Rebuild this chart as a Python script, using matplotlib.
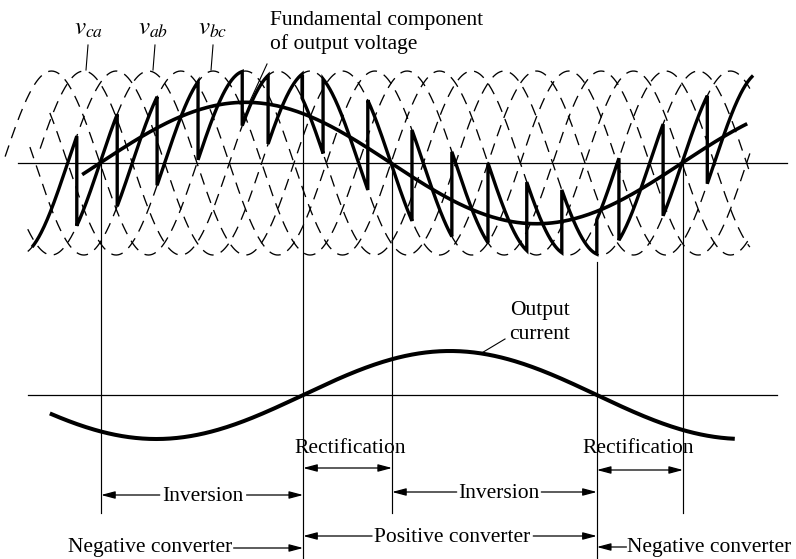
import numpy as np
import matplotlib
matplotlib.use("Agg")
import matplotlib.pyplot as plt

plt.rcParams['font.family'] = ['Liberation Serif', 'DejaVu Serif']
plt.rcParams['mathtext.fontset'] = 'stix'
plt.rcParams['lines.scale_dashes'] = False

# ---- supply side: six line-to-line voltages, peaks 60 deg apart (per unit) ----
# index k -> v_ca, -v_bc, v_ab, -v_ca, v_bc, -v_ab  (peak of k at 60*k deg)
phase_step = 60.0
dashed_start = [-81, -104, -104, -100, -63, -146]   # deg
dashed_end = [1236, 1236, 1236, 1236, 1236, 1236]   # deg

# ---- cycloconverter output: segment edges (deg) and conducted phase index ----
segment_edges = [-96, -13, 62, 136, 212, 294, 342, 405, 444, 527, 609,
                 683, 750, 822, 887, 952, 993, 1075, 1157, 1242]
segment_phase = [1, 2, 3, 4, 5, 6, 7,
                 6, 7, 8, 9, 10, 11, 12, 13,
                 18, 19, 20, 21]

# fundamental of output voltage (per unit of supply peak)
fund_amp, fund_zero, fund_period = 0.66, 30.0, 1080.0
fund_range = (-3, 1231)

# output current (per unit)
cur_amp, cur_zero, cur_period = 1.0, 407.0, 1090.0
cur_range = (-63, 1208)

# mode boundaries (deg): voltage zeros and current zeros
v_zero_marks = [32, 572, 1112]
i_zero_marks = [407, 952]

# ---------------------------------------------------------------------------
fig = plt.figure(figsize=(7.96, 5.59), dpi=100)
ax = fig.add_axes([0, 0, 1, 1])            # rows layer for labels and guides
ax_v = fig.add_axes([0, 0, 1, 1], sharex=ax)
ax_i = fig.add_axes([0, 0, 1, 1], sharex=ax)
for a in (ax, ax_v, ax_i):
    a.set_axis_off()
    a.patch.set_alpha(0)
ax.set_xlim(-155.5, 1321.6)
ax.set_ylim(559, 0)
ax_v.set_ylim(-4.304, 1.772)
ax_i.set_ylim(-3.727, 8.977)

k_col = 'black'

# zero axes
ax_v.plot([-122, 1305], [0, 0], color=k_col, lw=0.9)
ax_i.plot([-104, 1286], [0, 0], color=k_col, lw=0.9)

# dashed supply voltages
for k in range(6):
    th = np.linspace(dashed_start[k], dashed_end[k], 800)
    ax_v.plot(th, np.cos(np.radians(th - phase_step * k)), color=k_col,
              lw=0.95, linestyle=(0, (8.5, 5.5)))

# heavy output voltage
th_all, v_all = [], []
for i, n in enumerate(segment_phase):
    th = np.linspace(segment_edges[i], segment_edges[i + 1], 60)
    th_all.append(th)
    v_all.append(np.cos(np.radians(th - phase_step * n)))
ax_v.plot(np.concatenate(th_all), np.concatenate(v_all), color=k_col, lw=2.4,
          solid_joinstyle='miter', solid_capstyle='butt')

# fundamental component
th = np.linspace(*fund_range, 400)
ax_v.plot(th, fund_amp * np.sin(np.radians((th - fund_zero) * 360 / fund_period)),
          color=k_col, lw=2.6, solid_capstyle='butt')

# output current
th = np.linspace(*cur_range, 400)
ax_i.plot(th, cur_amp * np.sin(np.radians((th - cur_zero) * 360 / cur_period)),
          color=k_col, lw=2.9, solid_capstyle='butt')

# mode boundary guides (rows)
for x in v_zero_marks:
    ax.plot([x, x], [163, 513], color=k_col, lw=0.85)
ax.plot([i_zero_marks[0]] * 2, [75, 558], color=k_col, lw=0.85)
ax.plot([i_zero_marks[1]] * 2, [262, 558], color=k_col, lw=0.85)

# labels of supply voltages
fs = 15.5
for name, xt, x0, x1 in [(r'$v_{ca}$', 9.6, 7.8, 4.1),
                         (r'$v_{ab}$', 128.4, 132.1, 128.4),
                         (r'$v_{bc}$', 239.8, 239.8, 236.1)]:
    ax.text(xt, 35, name, fontsize=18, ha='center', va='baseline')
    ax.plot([x0, x1], [45, 70], color=k_col, lw=0.8)

ax.text(345.5, 25, 'Fundamental component', fontsize=fs, ha='left', va='baseline')
ax.text(345.5, 49, 'of output voltage', fontsize=fs, ha='left', va='baseline')
ax.plot([340.0, 308.4], [64, 101], color=k_col, lw=0.8)

ax.text(846.6, 315, 'Output', fontsize=fs, ha='center', va='baseline')
ax.text(846.6, 339, 'current', fontsize=fs, ha='center', va='baseline')
ax.plot([781.6, 735.2], [339, 354], color=k_col, lw=0.8)

# mode annotations
ahead = dict(color=k_col, lw=0.9, shrinkA=0, shrinkB=0, mutation_scale=14)


def arrow(x_tail, x_head, y, style='-|>'):
    ax.annotate('', xy=(x_head, y), xytext=(x_tail, y),
                arrowprops=dict(arrowstyle=style + ',head_length=0.6,head_width=0.16',
                                **ahead))


ax.text(494, 453, 'Rectification', fontsize=fs, ha='center', va='baseline')
arrow(407, 572, 468, '<|-|>')
ax.text(1028.4, 453, 'Rectification', fontsize=fs, ha='center', va='baseline')
arrow(952, 1112, 470, '<|-|>')

ax.text(221.2, 501, 'Inversion', fontsize=fs, ha='center', va='baseline')
arrow(141, 32, 495)
arrow(302, 407, 495)
ax.text(770.4, 498, 'Inversion', fontsize=fs, ha='center', va='baseline')
arrow(692, 572, 492)
arrow(849, 952, 492)

ax.text(123, 552, 'Negative converter', fontsize=fs, ha='center', va='baseline')
arrow(278, 407, 548)
ax.text(684.2, 542, 'Positive converter', fontsize=fs, ha='center', va='baseline')
arrow(535, 407, 536)
arrow(834, 952, 536)
ax.text(1313, 552, 'Negative converter', fontsize=fs, ha='right', va='baseline')
arrow(1007, 952, 547)

fig.savefig('out.png', dpi=100)
